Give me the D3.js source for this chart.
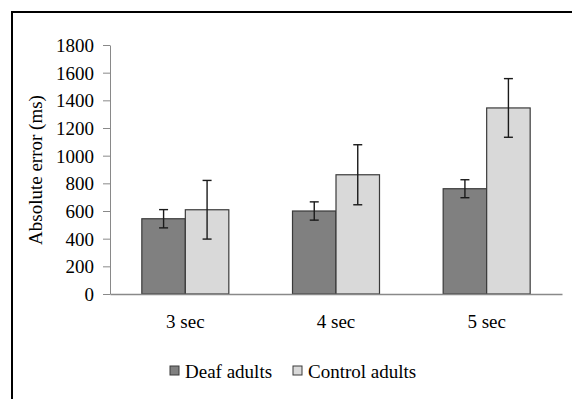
<!DOCTYPE html>
<html><head><meta charset="utf-8">
<script src="https://cdn.jsdelivr.net/npm/d3@7"></script>
<style>
body{margin:0;background:#fff;}
text{font-family:"Liberation Serif","Times New Roman",serif;fill:#000;}
</style></head>
<body>
<script>
const categories = ["3 sec", "4 sec", "5 sec"];
const seriesNames = ["Deaf adults", "Control adults"];
const deafMeans = [544, 600, 761];
const deafErr = [66, 66, 65];
const controlMeans = [609, 862, 1345];
const controlErr = [212, 217, 212];
const yTicks = [0, 200, 400, 600, 800, 1000, 1200, 1400, 1600, 1800];
const colors = ["#808080", "#d9d9d9"];

const W = 572, H = 399;
const FS = 19;
const svg = d3.select("body").append("svg").attr("width", W).attr("height", H);

// frame (left and top borders)
svg.append("line").attr("x1", 12).attr("x2", 12).attr("y1", 11).attr("y2", H).attr("stroke", "#000").attr("stroke-width", 2);
svg.append("line").attr("x1", 11).attr("x2", W).attr("y1", 12).attr("y2", 12).attr("stroke", "#000").attr("stroke-width", 2);

const x0 = d3.scaleBand().domain(categories).range([110, 562]).paddingInner(0).paddingOuter(0);
const x1 = d3.scaleBand().domain(seriesNames).range([0, 87]);
const y = d3.scaleLinear().domain([0, 1800]).range([294, 45]);

// y axis
const yAxis = svg.append("g").attr("transform", "translate(110,0)")
  .call(d3.axisLeft(y).tickValues(yTicks).tickFormat(d3.format("d")).tickSize(7).tickPadding(9).tickSizeOuter(0));
yAxis.attr("font-family", null).attr("font-size", null);
yAxis.select(".domain").attr("stroke", "#898989");
yAxis.selectAll(".tick line").attr("stroke", "#898989");
yAxis.selectAll("text").attr("font-size", FS).attr("fill", "#000").attr("dy", "0.34em");

const data = categories.map((c, i) => ({
  cat: c,
  vals: [
    {s: seriesNames[0], v: deafMeans[i], e: deafErr[i], c: colors[0]},
    {s: seriesNames[1], v: controlMeans[i], e: controlErr[i], c: colors[1]}
  ]
}));

const groups = svg.selectAll("g.grp").data(data).enter().append("g")
  .attr("class", "grp")
  .attr("transform", d => `translate(${x0(d.cat) + x0.bandwidth()/2 - 43.5},0)`);

groups.selectAll("rect").data(d => d.vals).enter().append("rect")
  .attr("x", d => x1(d.s))
  .attr("y", d => y(d.v))
  .attr("width", x1.bandwidth())
  .attr("height", d => y(0) - y(d.v))
  .attr("fill", d => d.c)
  .attr("stroke", "#3a3a3a")
  .attr("stroke-width", 1.2);

// error bars
groups.selectAll("g.err").data(d => d.vals).enter().append("g").attr("class", "err").each(function(d) {
  const g = d3.select(this);
  const cx = x1(d.s) + x1.bandwidth()/2;
  g.append("line").attr("x1", cx).attr("x2", cx).attr("y1", y(d.v + d.e)).attr("y2", y(d.v - d.e)).attr("stroke", "#1a1a1a").attr("stroke-width", 1.4);
  [d.v + d.e, d.v - d.e].forEach(t => {
    g.append("line").attr("x1", cx - 4.5).attr("x2", cx + 4.5).attr("y1", y(t)).attr("y2", y(t)).attr("stroke", "#1a1a1a").attr("stroke-width", 1.4);
  });
});

// x axis
const xAxis = svg.append("g").attr("transform", "translate(0,294)")
  .call(d3.axisBottom(x0).tickSize(0).tickPadding(21));
xAxis.attr("font-family", null).attr("font-size", null);
xAxis.select(".domain").attr("stroke", "#898989").attr("stroke-width", 1.3);
xAxis.selectAll("text").attr("font-size", FS).attr("fill", "#000");

// y axis title
svg.append("text")
  .attr("transform", "translate(42,170) rotate(-90)")
  .attr("text-anchor", "middle")
  .attr("font-size", FS)
  .text("Absolute error (ms)");

// legend
const legX = [170, 293];
const leg = svg.selectAll("g.leg").data(seriesNames).enter().append("g")
  .attr("class", "leg")
  .attr("transform", (d, i) => `translate(${legX[i]},366)`);
leg.append("rect").attr("width", 9).attr("height", 9)
  .attr("fill", (d, i) => colors[i]).attr("stroke", "#3a3a3a").attr("stroke-width", 1);
leg.append("text").attr("x", 15).attr("y", 12).attr("font-size", FS).text(d => d);
</script>
</body></html>
